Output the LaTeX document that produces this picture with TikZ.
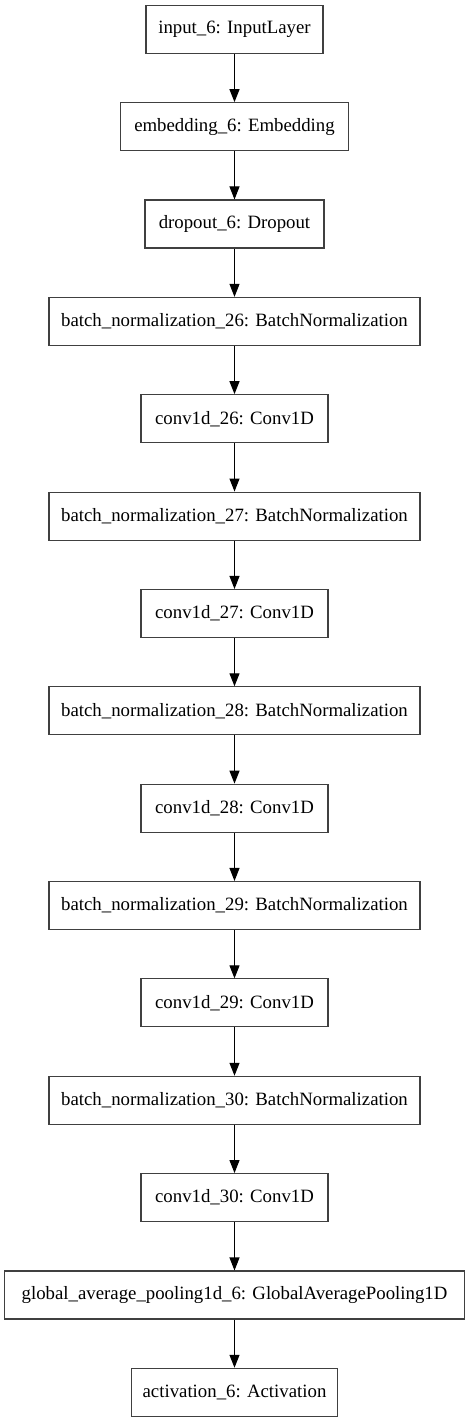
\documentclass[tikz,border=0pt]{standalone}
\usepackage{fontspec}
\setmainfont{Liberation Serif}
\usetikzlibrary{arrows.meta}
\begin{document}
\begin{tikzpicture}[x=1pt,y=1pt,
  layer/.style={draw=black!75, line width=1.1pt, fill=white, minimum height=48pt, inner sep=0pt, font=\fontsize{18.8}{22}\selectfont, text=black},
  arr/.style={-{Triangle[length=13pt,width=10pt]}, line width=1.1pt, black}]
\useasboundingbox (0,0) rectangle (469,-1423);
\def\cx{234.5}
\node[layer, minimum width=177pt] (n0) at (\cx,-29.3) {input\_6: InputLayer};
\node[layer, minimum width=228pt] (n1) at (\cx,-126.7) {embedding\_6: Embedding};
\node[layer, minimum width=179pt] (n2) at (\cx,-224.0) {dropout\_6: Dropout};
\node[layer, minimum width=371pt] (n3) at (\cx,-321.4) {batch\_normalization\_26: BatchNormalization};
\node[layer, minimum width=187pt] (n4) at (\cx,-418.7) {conv1d\_26: Conv1D};
\node[layer, minimum width=371pt] (n5) at (\cx,-516.1) {batch\_normalization\_27: BatchNormalization};
\node[layer, minimum width=187pt] (n6) at (\cx,-613.5) {conv1d\_27: Conv1D};
\node[layer, minimum width=371pt] (n7) at (\cx,-710.8) {batch\_normalization\_28: BatchNormalization};
\node[layer, minimum width=187pt] (n8) at (\cx,-808.2) {conv1d\_28: Conv1D};
\node[layer, minimum width=371pt] (n9) at (\cx,-905.5) {batch\_normalization\_29: BatchNormalization};
\node[layer, minimum width=187pt] (n10) at (\cx,-1002.9) {conv1d\_29: Conv1D};
\node[layer, minimum width=371pt] (n11) at (\cx,-1100.3) {batch\_normalization\_30: BatchNormalization};
\node[layer, minimum width=187pt] (n12) at (\cx,-1197.6) {conv1d\_30: Conv1D};
\node[layer, minimum width=460pt] (n13) at (\cx,-1295.0) {global\_average\_pooling1d\_6: GlobalAveragePooling1D};
\node[layer, minimum width=206pt] (n14) at (\cx,-1392.3) {activation\_6: Activation};
\foreach \a/\b in {n0/n1,n1/n2,n2/n3,n3/n4,n4/n5,n5/n6,n6/n7,n7/n8,n8/n9,n9/n10,n10/n11,n11/n12,n12/n13,n13/n14}
  \draw[arr] (\a.south) -- (\b.north);
\end{tikzpicture}
\end{document}
